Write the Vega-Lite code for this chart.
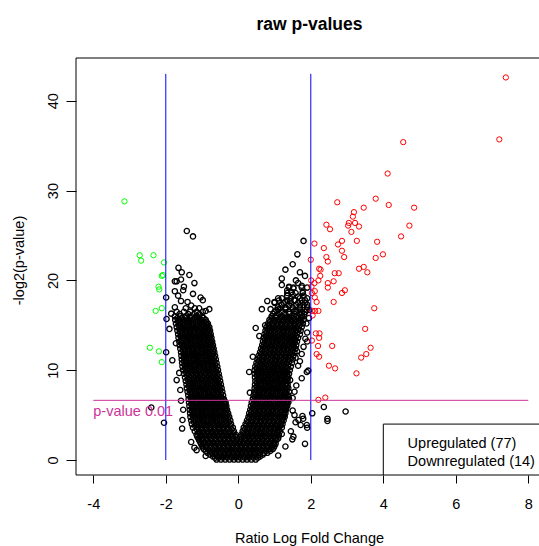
{
"$schema": "https://vega.github.io/schema/vega-lite/v6.json",
"width": 463, "height": 417,
"autosize": {"type": "none"},
"padding": {"left": 76, "top": 58, "right": 0, "bottom": 71},
"background": "white",
"title": {"text": "raw p-values", "font": "Liberation Sans", "fontSize": 17.5, "fontWeight": "bold", "color": "black", "anchor": "middle", "baseline": "alphabetic", "offset": 10, "dx": 2},
"config": {"view": {"stroke": null}, "axis": {"grid": false, "domain": false, "labelFont": "Liberation Sans", "labelFontSize": 14.5, "labelColor": "black", "tickColor": "black", "tickWidth": 1, "titleFont": "Liberation Sans", "titleFontSize": 14.5, "titleFontWeight": "normal", "titleColor": "black", "labelOverlap": false, "labelFlush": false, "labelBound": false}},
"datasets": {
"ns": [
{"x":-0.6,"y":0.05},{"x":-0.48,"y":0.05},{"x":-0.36,"y":0.05},{"x":-0.24,"y":0.05},{"x":-0.12,"y":0.05},{"x":0,"y":0.05},{"x":0.12,"y":0.05},{"x":0.24,"y":0.05},{"x":0.36,"y":0.05},{"x":0.48,"y":0.05},
{"x":-0.64,"y":0.25},{"x":-0.54,"y":0.25},{"x":-0.42,"y":0.25},{"x":-0.3,"y":0.25},{"x":-0.18,"y":0.25},{"x":-0.06,"y":0.25},{"x":0.06,"y":0.25},{"x":0.18,"y":0.25},{"x":0.3,"y":0.25},{"x":0.42,"y":0.25},{"x":0.54,"y":0.25},
{"x":-0.7,"y":0.4},{"x":-0.58,"y":0.4},{"x":-0.46,"y":0.4},{"x":-0.34,"y":0.4},{"x":-0.22,"y":0.4},{"x":-0.1,"y":0.4},{"x":0.02,"y":0.4},{"x":0.14,"y":0.4},{"x":0.26,"y":0.4},{"x":0.38,"y":0.4},{"x":0.5,"y":0.4},{"x":0.6,"y":0.4},
{"x":-0.78,"y":0.6},{"x":-0.64,"y":0.6},{"x":-0.52,"y":0.6},{"x":-0.4,"y":0.6},{"x":-0.28,"y":0.6},{"x":-0.16,"y":0.6},{"x":-0.04,"y":0.6},{"x":0.08,"y":0.6},{"x":0.2,"y":0.6},{"x":0.32,"y":0.6},{"x":0.44,"y":0.6},{"x":0.56,"y":0.6},{"x":0.68,"y":0.6},
{"x":-0.85,"y":0.8},{"x":-0.73,"y":0.8},{"x":-0.61,"y":0.8},{"x":-0.49,"y":0.8},{"x":-0.37,"y":0.8},{"x":-0.25,"y":0.8},{"x":-0.13,"y":0.8},{"x":-0.01,"y":0.8},{"x":0.11,"y":0.8},{"x":0.23,"y":0.8},{"x":0.35,"y":0.8},{"x":0.47,"y":0.8},{"x":0.59,"y":0.8},{"x":0.71,"y":0.8},{"x":0.8,"y":0.8},
{"x":-0.9,"y":1.0},{"x":-0.79,"y":1.0},{"x":-0.67,"y":1.0},{"x":-0.55,"y":1.0},{"x":-0.43,"y":1.0},{"x":-0.31,"y":1.0},{"x":-0.19,"y":1.0},{"x":-0.07,"y":1.0},{"x":0.05,"y":1.0},{"x":0.17,"y":1.0},{"x":0.29,"y":1.0},{"x":0.41,"y":1.0},{"x":0.53,"y":1.0},{"x":0.65,"y":1.0},{"x":0.77,"y":1.0},{"x":0.88,"y":1.0},
{"x":-0.95,"y":1.2},{"x":-0.83,"y":1.2},{"x":-0.71,"y":1.2},{"x":-0.59,"y":1.2},{"x":-0.47,"y":1.2},{"x":-0.35,"y":1.2},{"x":-0.23,"y":1.2},{"x":-0.11,"y":1.2},{"x":0.01,"y":1.2},{"x":0.13,"y":1.2},{"x":0.25,"y":1.2},{"x":0.37,"y":1.2},{"x":0.49,"y":1.2},{"x":0.61,"y":1.2},{"x":0.73,"y":1.2},{"x":0.85,"y":1.2},{"x":0.95,"y":1.2},
{"x":-0.98,"y":1.4},{"x":-0.89,"y":1.4},{"x":-0.77,"y":1.4},{"x":-0.65,"y":1.4},{"x":-0.53,"y":1.4},{"x":-0.41,"y":1.4},{"x":-0.29,"y":1.4},{"x":-0.17,"y":1.4},{"x":-0.05,"y":1.4},{"x":0.07,"y":1.4},{"x":0.19,"y":1.4},{"x":0.31,"y":1.4},{"x":0.43,"y":1.4},{"x":0.55,"y":1.4},{"x":0.67,"y":1.4},{"x":0.79,"y":1.4},{"x":0.91,"y":1.4},{"x":0.98,"y":1.4},
{"x":-1.0,"y":1.6},{"x":-0.88,"y":1.6},{"x":-0.76,"y":1.6},{"x":-0.64,"y":1.6},{"x":-0.52,"y":1.6},{"x":-0.4,"y":1.6},{"x":-0.28,"y":1.6},{"x":-0.16,"y":1.6},{"x":-0.04,"y":1.6},{"x":0.08,"y":1.6},{"x":0.2,"y":1.6},{"x":0.32,"y":1.6},{"x":0.44,"y":1.6},{"x":0.56,"y":1.6},{"x":0.68,"y":1.6},{"x":0.8,"y":1.6},{"x":0.92,"y":1.6},{"x":1.0,"y":1.6},
{"x":-1.03,"y":1.8},{"x":-0.94,"y":1.8},{"x":-0.82,"y":1.8},{"x":-0.7,"y":1.8},{"x":-0.58,"y":1.8},{"x":-0.46,"y":1.8},{"x":-0.34,"y":1.8},{"x":-0.22,"y":1.8},{"x":-0.1,"y":1.8},{"x":0.02,"y":1.8},{"x":0.14,"y":1.8},{"x":0.26,"y":1.8},{"x":0.38,"y":1.8},{"x":0.5,"y":1.8},{"x":0.62,"y":1.8},{"x":0.74,"y":1.8},{"x":0.86,"y":1.8},{"x":0.98,"y":1.8},{"x":1.03,"y":1.8},
{"x":-1.05,"y":2.0},{"x":-0.93,"y":2.0},{"x":-0.81,"y":2.0},{"x":-0.69,"y":2.0},{"x":-0.57,"y":2.0},{"x":-0.45,"y":2.0},{"x":-0.33,"y":2.0},{"x":-0.21,"y":2.0},{"x":-0.09,"y":2.0},{"x":0.03,"y":2.0},{"x":0.15,"y":2.0},{"x":0.27,"y":2.0},{"x":0.39,"y":2.0},{"x":0.51,"y":2.0},{"x":0.63,"y":2.0},{"x":0.75,"y":2.0},{"x":0.87,"y":2.0},{"x":0.99,"y":2.0},
{"x":-1.08,"y":2.2},{"x":-0.99,"y":2.2},{"x":-0.87,"y":2.2},{"x":-0.75,"y":2.2},{"x":-0.63,"y":2.2},{"x":-0.51,"y":2.2},{"x":-0.39,"y":2.2},{"x":-0.27,"y":2.2},{"x":-0.15,"y":2.2},{"x":-0.03,"y":2.2},{"x":0.09,"y":2.2},{"x":0.21,"y":2.2},{"x":0.33,"y":2.2},{"x":0.45,"y":2.2},{"x":0.57,"y":2.2},{"x":0.69,"y":2.2},{"x":0.81,"y":2.2},{"x":0.93,"y":2.2},{"x":1.05,"y":2.2},
{"x":-1.1,"y":2.4},{"x":-0.98,"y":2.4},{"x":-0.86,"y":2.4},{"x":-0.74,"y":2.4},{"x":-0.62,"y":2.4},{"x":-0.5,"y":2.4},{"x":-0.38,"y":2.4},{"x":-0.26,"y":2.4},{"x":-0.14,"y":2.4},{"x":-0.04,"y":2.4},{"x":0.06,"y":2.4},{"x":0.18,"y":2.4},{"x":0.3,"y":2.4},{"x":0.42,"y":2.4},{"x":0.54,"y":2.4},{"x":0.66,"y":2.4},{"x":0.78,"y":2.4},{"x":0.9,"y":2.4},{"x":1.02,"y":2.4},{"x":1.1,"y":2.4},
{"x":-1.13,"y":2.6},{"x":-1.04,"y":2.6},{"x":-0.92,"y":2.6},{"x":-0.8,"y":2.6},{"x":-0.68,"y":2.6},{"x":-0.56,"y":2.6},{"x":-0.44,"y":2.6},{"x":-0.32,"y":2.6},{"x":-0.2,"y":2.6},{"x":-0.08,"y":2.6},{"x":0.07,"y":2.6},{"x":0.14,"y":2.6},{"x":0.26,"y":2.6},{"x":0.38,"y":2.6},{"x":0.5,"y":2.6},{"x":0.62,"y":2.6},{"x":0.74,"y":2.6},{"x":0.86,"y":2.6},{"x":0.98,"y":2.6},{"x":1.1,"y":2.6},
{"x":-1.15,"y":2.8},{"x":-1.03,"y":2.8},{"x":-0.91,"y":2.8},{"x":-0.79,"y":2.8},{"x":-0.67,"y":2.8},{"x":-0.55,"y":2.8},{"x":-0.43,"y":2.8},{"x":-0.31,"y":2.8},{"x":-0.19,"y":2.8},{"x":-0.07,"y":2.8},{"x":0.08,"y":2.8},{"x":0.2,"y":2.8},{"x":0.32,"y":2.8},{"x":0.44,"y":2.8},{"x":0.56,"y":2.8},{"x":0.68,"y":2.8},{"x":0.8,"y":2.8},{"x":0.92,"y":2.8},{"x":1.04,"y":2.8},{"x":1.12,"y":2.8},
{"x":-1.09,"y":3.0},{"x":-0.97,"y":3.0},{"x":-0.85,"y":3.0},{"x":-0.73,"y":3.0},{"x":-0.61,"y":3.0},{"x":-0.49,"y":3.0},{"x":-0.37,"y":3.0},{"x":-0.25,"y":3.0},{"x":-0.13,"y":3.0},{"x":0.14,"y":3.0},{"x":0.26,"y":3.0},{"x":0.38,"y":3.0},{"x":0.5,"y":3.0},{"x":0.62,"y":3.0},{"x":0.74,"y":3.0},{"x":0.86,"y":3.0},{"x":0.98,"y":3.0},{"x":1.08,"y":3.0},
{"x":-1.2,"y":3.2},{"x":-1.08,"y":3.2},{"x":-0.96,"y":3.2},{"x":-0.84,"y":3.2},{"x":-0.72,"y":3.2},{"x":-0.6,"y":3.2},{"x":-0.48,"y":3.2},{"x":-0.36,"y":3.2},{"x":-0.24,"y":3.2},{"x":-0.12,"y":3.2},{"x":0.12,"y":3.2},{"x":0.24,"y":3.2},{"x":0.36,"y":3.2},{"x":0.48,"y":3.2},{"x":0.6,"y":3.2},{"x":0.72,"y":3.2},{"x":0.84,"y":3.2},{"x":0.96,"y":3.2},{"x":1.08,"y":3.2},{"x":1.15,"y":3.2},
{"x":-1.14,"y":3.4},{"x":-1.02,"y":3.4},{"x":-0.9,"y":3.4},{"x":-0.78,"y":3.4},{"x":-0.66,"y":3.4},{"x":-0.54,"y":3.4},{"x":-0.42,"y":3.4},{"x":-0.3,"y":3.4},{"x":-0.18,"y":3.4},{"x":0.18,"y":3.4},{"x":0.3,"y":3.4},{"x":0.42,"y":3.4},{"x":0.54,"y":3.4},{"x":0.66,"y":3.4},{"x":0.78,"y":3.4},{"x":0.9,"y":3.4},{"x":1.02,"y":3.4},{"x":1.12,"y":3.4},
{"x":-1.25,"y":3.6},{"x":-1.13,"y":3.6},{"x":-1.01,"y":3.6},{"x":-0.89,"y":3.6},{"x":-0.77,"y":3.6},{"x":-0.65,"y":3.6},{"x":-0.53,"y":3.6},{"x":-0.41,"y":3.6},{"x":-0.29,"y":3.6},{"x":-0.15,"y":3.6},{"x":0.15,"y":3.6},{"x":0.27,"y":3.6},{"x":0.39,"y":3.6},{"x":0.51,"y":3.6},{"x":0.63,"y":3.6},{"x":0.75,"y":3.6},{"x":0.87,"y":3.6},{"x":0.99,"y":3.6},{"x":1.11,"y":3.6},{"x":1.2,"y":3.6},
{"x":-1.19,"y":3.8},{"x":-1.07,"y":3.8},{"x":-0.95,"y":3.8},{"x":-0.83,"y":3.8},{"x":-0.71,"y":3.8},{"x":-0.59,"y":3.8},{"x":-0.47,"y":3.8},{"x":-0.35,"y":3.8},{"x":-0.22,"y":3.8},{"x":0.21,"y":3.8},{"x":0.33,"y":3.8},{"x":0.45,"y":3.8},{"x":0.57,"y":3.8},{"x":0.69,"y":3.8},{"x":0.81,"y":3.8},{"x":0.93,"y":3.8},{"x":1.05,"y":3.8},{"x":1.16,"y":3.8},
{"x":-1.28,"y":4.0},{"x":-1.16,"y":4.0},{"x":-1.04,"y":4.0},{"x":-0.92,"y":4.0},{"x":-0.8,"y":4.0},{"x":-0.68,"y":4.0},{"x":-0.56,"y":4.0},{"x":-0.44,"y":4.0},{"x":-0.32,"y":4.0},{"x":-0.2,"y":4.0},{"x":0.2,"y":4.0},{"x":0.32,"y":4.0},{"x":0.44,"y":4.0},{"x":0.56,"y":4.0},{"x":0.68,"y":4.0},{"x":0.8,"y":4.0},{"x":0.92,"y":4.0},{"x":1.04,"y":4.0},{"x":1.16,"y":4.0},{"x":1.22,"y":4.0},
{"x":-1.22,"y":4.2},{"x":-1.1,"y":4.2},{"x":-0.98,"y":4.2},{"x":-0.86,"y":4.2},{"x":-0.74,"y":4.2},{"x":-0.62,"y":4.2},{"x":-0.5,"y":4.2},{"x":-0.38,"y":4.2},{"x":-0.26,"y":4.2},{"x":0.26,"y":4.2},{"x":0.38,"y":4.2},{"x":0.5,"y":4.2},{"x":0.62,"y":4.2},{"x":0.74,"y":4.2},{"x":0.86,"y":4.2},{"x":0.98,"y":4.2},{"x":1.1,"y":4.2},{"x":1.19,"y":4.2},
{"x":-1.3,"y":4.4},{"x":-1.18,"y":4.4},{"x":-1.06,"y":4.4},{"x":-0.94,"y":4.4},{"x":-0.82,"y":4.4},{"x":-0.7,"y":4.4},{"x":-0.58,"y":4.4},{"x":-0.46,"y":4.4},{"x":-0.34,"y":4.4},{"x":-0.22,"y":4.4},{"x":0.24,"y":4.4},{"x":0.36,"y":4.4},{"x":0.48,"y":4.4},{"x":0.6,"y":4.4},{"x":0.72,"y":4.4},{"x":0.84,"y":4.4},{"x":0.96,"y":4.4},{"x":1.08,"y":4.4},{"x":1.2,"y":4.4},{"x":1.25,"y":4.4},
{"x":-1.24,"y":4.6},{"x":-1.12,"y":4.6},{"x":-1.0,"y":4.6},{"x":-0.88,"y":4.6},{"x":-0.76,"y":4.6},{"x":-0.64,"y":4.6},{"x":-0.52,"y":4.6},{"x":-0.4,"y":4.6},{"x":-0.28,"y":4.6},{"x":0.3,"y":4.6},{"x":0.42,"y":4.6},{"x":0.54,"y":4.6},{"x":0.66,"y":4.6},{"x":0.78,"y":4.6},{"x":0.9,"y":4.6},{"x":1.02,"y":4.6},{"x":1.14,"y":4.6},{"x":1.22,"y":4.6},
{"x":-1.32,"y":4.8},{"x":-1.2,"y":4.8},{"x":-1.08,"y":4.8},{"x":-0.96,"y":4.8},{"x":-0.84,"y":4.8},{"x":-0.72,"y":4.8},{"x":-0.6,"y":4.8},{"x":-0.48,"y":4.8},{"x":-0.36,"y":4.8},{"x":-0.25,"y":4.8},{"x":0.28,"y":4.8},{"x":0.4,"y":4.8},{"x":0.52,"y":4.8},{"x":0.64,"y":4.8},{"x":0.76,"y":4.8},{"x":0.88,"y":4.8},{"x":1.0,"y":4.8},{"x":1.12,"y":4.8},{"x":1.24,"y":4.8},{"x":1.28,"y":4.8},
{"x":-1.26,"y":5.0},{"x":-1.14,"y":5.0},{"x":-1.02,"y":5.0},{"x":-0.9,"y":5.0},{"x":-0.78,"y":5.0},{"x":-0.66,"y":5.0},{"x":-0.54,"y":5.0},{"x":-0.42,"y":5.0},{"x":-0.3,"y":5.0},{"x":0.34,"y":5.0},{"x":0.46,"y":5.0},{"x":0.58,"y":5.0},{"x":0.7,"y":5.0},{"x":0.82,"y":5.0},{"x":0.94,"y":5.0},{"x":1.06,"y":5.0},{"x":1.18,"y":5.0},{"x":1.26,"y":5.0},
{"x":-1.33,"y":5.2},{"x":-1.21,"y":5.2},{"x":-1.09,"y":5.2},{"x":-0.97,"y":5.2},{"x":-0.85,"y":5.2},{"x":-0.73,"y":5.2},{"x":-0.61,"y":5.2},{"x":-0.49,"y":5.2},{"x":-0.37,"y":5.2},{"x":-0.28,"y":5.2},{"x":0.3,"y":5.2},{"x":0.42,"y":5.2},{"x":0.54,"y":5.2},{"x":0.66,"y":5.2},{"x":0.78,"y":5.2},{"x":0.9,"y":5.2},{"x":1.02,"y":5.2},{"x":1.14,"y":5.2},{"x":1.26,"y":5.2},{"x":1.3,"y":5.2},
{"x":-1.27,"y":5.4},{"x":-1.15,"y":5.4},{"x":-1.03,"y":5.4},{"x":-0.91,"y":5.4},{"x":-0.79,"y":5.4},{"x":-0.67,"y":5.4},{"x":-0.55,"y":5.4},{"x":-0.43,"y":5.4},{"x":-0.33,"y":5.4},{"x":0.36,"y":5.4},{"x":0.48,"y":5.4},{"x":0.6,"y":5.4},{"x":0.72,"y":5.4},{"x":0.84,"y":5.4},{"x":0.96,"y":5.4},{"x":1.08,"y":5.4},{"x":1.2,"y":5.4},{"x":1.28,"y":5.4},
{"x":-1.34,"y":5.6},{"x":-1.22,"y":5.6},{"x":-1.1,"y":5.6},{"x":-0.98,"y":5.6},{"x":-0.86,"y":5.6},{"x":-0.74,"y":5.6},{"x":-0.62,"y":5.6},{"x":-0.5,"y":5.6},{"x":-0.38,"y":5.6},{"x":-0.31,"y":5.6},{"x":0.33,"y":5.6},{"x":0.45,"y":5.6},{"x":0.57,"y":5.6},{"x":0.69,"y":5.6},{"x":0.81,"y":5.6},{"x":0.93,"y":5.6},{"x":1.05,"y":5.6},{"x":1.17,"y":5.6},{"x":1.29,"y":5.6},{"x":1.32,"y":5.6},
{"x":-1.28,"y":5.8},{"x":-1.16,"y":5.8},{"x":-1.04,"y":5.8},{"x":-0.92,"y":5.8},{"x":-0.8,"y":5.8},{"x":-0.68,"y":5.8},{"x":-0.56,"y":5.8},{"x":-0.44,"y":5.8},{"x":-0.35,"y":5.8},{"x":0.39,"y":5.8},{"x":0.51,"y":5.8},{"x":0.63,"y":5.8},{"x":0.75,"y":5.8},{"x":0.87,"y":5.8},{"x":0.99,"y":5.8},{"x":1.11,"y":5.8},{"x":1.23,"y":5.8},{"x":1.31,"y":5.8},
{"x":-1.35,"y":6.0},{"x":-1.23,"y":6.0},{"x":-1.11,"y":6.0},{"x":-0.99,"y":6.0},{"x":-0.87,"y":6.0},{"x":-0.75,"y":6.0},{"x":-0.63,"y":6.0},{"x":-0.51,"y":6.0},{"x":-0.39,"y":6.0},{"x":-0.33,"y":6.0},{"x":0.35,"y":6.0},{"x":0.47,"y":6.0},{"x":0.59,"y":6.0},{"x":0.71,"y":6.0},{"x":0.83,"y":6.0},{"x":0.95,"y":6.0},{"x":1.07,"y":6.0},{"x":1.19,"y":6.0},{"x":1.31,"y":6.0},{"x":1.35,"y":6.0},
{"x":-1.29,"y":6.2},{"x":-1.17,"y":6.2},{"x":-1.05,"y":6.2},{"x":-0.93,"y":6.2},{"x":-0.81,"y":6.2},{"x":-0.69,"y":6.2},{"x":-0.57,"y":6.2},{"x":-0.45,"y":6.2},{"x":-0.36,"y":6.2},{"x":0.41,"y":6.2},{"x":0.53,"y":6.2},{"x":0.65,"y":6.2},{"x":0.77,"y":6.2},{"x":0.89,"y":6.2},{"x":1.01,"y":6.2},{"x":1.13,"y":6.2},{"x":1.25,"y":6.2},{"x":1.33,"y":6.2},
{"x":-1.36,"y":6.4},{"x":-1.24,"y":6.4},{"x":-1.12,"y":6.4},{"x":-1.0,"y":6.4},{"x":-0.88,"y":6.4},{"x":-0.76,"y":6.4},{"x":-0.64,"y":6.4},{"x":-0.52,"y":6.4},{"x":-0.4,"y":6.4},{"x":-0.35,"y":6.4},{"x":0.37,"y":6.4},{"x":0.49,"y":6.4},{"x":0.61,"y":6.4},{"x":0.73,"y":6.4},{"x":0.85,"y":6.4},{"x":0.97,"y":6.4},{"x":1.09,"y":6.4},{"x":1.21,"y":6.4},{"x":1.33,"y":6.4},{"x":1.38,"y":6.4},
{"x":-1.3,"y":6.6},{"x":-1.18,"y":6.6},{"x":-1.06,"y":6.6},{"x":-0.94,"y":6.6},{"x":-0.82,"y":6.6},{"x":-0.7,"y":6.6},{"x":-0.58,"y":6.6},{"x":-0.46,"y":6.6},{"x":-0.38,"y":6.6},{"x":0.43,"y":6.6},{"x":0.55,"y":6.6},{"x":0.67,"y":6.6},{"x":0.79,"y":6.6},{"x":0.91,"y":6.6},{"x":1.03,"y":6.6},{"x":1.15,"y":6.6},{"x":1.27,"y":6.6},{"x":1.37,"y":6.6},
{"x":-1.37,"y":6.8},{"x":-1.25,"y":6.8},{"x":-1.13,"y":6.8},{"x":-1.01,"y":6.8},{"x":-0.89,"y":6.8},{"x":-0.77,"y":6.8},{"x":-0.65,"y":6.8},{"x":-0.53,"y":6.8},{"x":-0.4,"y":6.8},{"x":0.4,"y":6.8},{"x":0.52,"y":6.8},{"x":0.64,"y":6.8},{"x":0.76,"y":6.8},{"x":0.88,"y":6.8},{"x":1.0,"y":6.8},{"x":1.12,"y":6.8},{"x":1.24,"y":6.8},{"x":1.36,"y":6.8},{"x":1.4,"y":6.8},
{"x":-1.31,"y":7.0},{"x":-1.19,"y":7.0},{"x":-1.07,"y":7.0},{"x":-0.95,"y":7.0},{"x":-0.83,"y":7.0},{"x":-0.71,"y":7.0},{"x":-0.59,"y":7.0},{"x":-0.47,"y":7.0},{"x":0.46,"y":7.0},{"x":0.58,"y":7.0},{"x":0.7,"y":7.0},{"x":0.82,"y":7.0},{"x":0.94,"y":7.0},{"x":1.06,"y":7.0},{"x":1.18,"y":7.0},{"x":1.3,"y":7.0},{"x":1.38,"y":7.0},
{"x":-1.38,"y":7.2},{"x":-1.26,"y":7.2},{"x":-1.14,"y":7.2},{"x":-1.02,"y":7.2},{"x":-0.9,"y":7.2},{"x":-0.78,"y":7.2},{"x":-0.66,"y":7.2},{"x":-0.54,"y":7.2},{"x":-0.42,"y":7.2},{"x":0.42,"y":7.2},{"x":0.54,"y":7.2},{"x":0.66,"y":7.2},{"x":0.78,"y":7.2},{"x":0.9,"y":7.2},{"x":1.02,"y":7.2},{"x":1.14,"y":7.2},{"x":1.26,"y":7.2},{"x":1.38,"y":7.2},
{"x":-1.32,"y":7.4},{"x":-1.2,"y":7.4},{"x":-1.08,"y":7.4},{"x":-0.96,"y":7.4},{"x":-0.84,"y":7.4},{"x":-0.72,"y":7.4},{"x":-0.6,"y":7.4},{"x":-0.48,"y":7.4},{"x":0.48,"y":7.4},{"x":0.6,"y":7.4},{"x":0.72,"y":7.4},{"x":0.84,"y":7.4},{"x":0.96,"y":7.4},{"x":1.08,"y":7.4},{"x":1.2,"y":7.4},{"x":1.32,"y":7.4},
{"x":-1.4,"y":7.6},{"x":-1.28,"y":7.6},{"x":-1.16,"y":7.6},{"x":-1.04,"y":7.6},{"x":-0.92,"y":7.6},{"x":-0.8,"y":7.6},{"x":-0.68,"y":7.6},{"x":-0.56,"y":7.6},{"x":-0.44,"y":7.6},{"x":0.44,"y":7.6},{"x":0.56,"y":7.6},{"x":0.68,"y":7.6},{"x":0.8,"y":7.6},{"x":0.92,"y":7.6},{"x":1.04,"y":7.6},{"x":1.16,"y":7.6},{"x":1.28,"y":7.6},{"x":1.4,"y":7.6},
{"x":-1.34,"y":7.8},{"x":-1.22,"y":7.8},{"x":-1.1,"y":7.8},{"x":-0.98,"y":7.8},{"x":-0.86,"y":7.8},{"x":-0.74,"y":7.8},{"x":-0.62,"y":7.8},{"x":-0.5,"y":7.8},{"x":0.5,"y":7.8},{"x":0.62,"y":7.8},{"x":0.74,"y":7.8},{"x":0.86,"y":7.8},{"x":0.98,"y":7.8},{"x":1.1,"y":7.8},{"x":1.22,"y":7.8},{"x":1.34,"y":7.8},
{"x":-1.42,"y":8.0},{"x":-1.3,"y":8.0},{"x":-1.18,"y":8.0},{"x":-1.06,"y":8.0},{"x":-0.94,"y":8.0},{"x":-0.82,"y":8.0},{"x":-0.7,"y":8.0},{"x":-0.58,"y":8.0},{"x":-0.46,"y":8.0},{"x":0.45,"y":8.0},{"x":0.57,"y":8.0},{"x":0.69,"y":8.0},{"x":0.81,"y":8.0},{"x":0.93,"y":8.0},{"x":1.05,"y":8.0},{"x":1.17,"y":8.0},{"x":1.29,"y":8.0},{"x":1.38,"y":8.0},
{"x":-1.36,"y":8.2},{"x":-1.24,"y":8.2},{"x":-1.12,"y":8.2},{"x":-1.0,"y":8.2},{"x":-0.88,"y":8.2},{"x":-0.76,"y":8.2},{"x":-0.64,"y":8.2},{"x":-0.52,"y":8.2},{"x":0.51,"y":8.2},{"x":0.63,"y":8.2},{"x":0.75,"y":8.2},{"x":0.87,"y":8.2},{"x":0.99,"y":8.2},{"x":1.11,"y":8.2},{"x":1.23,"y":8.2},{"x":1.34,"y":8.2},
{"x":-1.43,"y":8.4},{"x":-1.31,"y":8.4},{"x":-1.19,"y":8.4},{"x":-1.07,"y":8.4},{"x":-0.95,"y":8.4},{"x":-0.83,"y":8.4},{"x":-0.71,"y":8.4},{"x":-0.59,"y":8.4},{"x":-0.48,"y":8.4},{"x":0.46,"y":8.4},{"x":0.58,"y":8.4},{"x":0.7,"y":8.4},{"x":0.82,"y":8.4},{"x":0.94,"y":8.4},{"x":1.06,"y":8.4},{"x":1.18,"y":8.4},{"x":1.3,"y":8.4},{"x":1.36,"y":8.4},
{"x":-1.37,"y":8.6},{"x":-1.25,"y":8.6},{"x":-1.13,"y":8.6},{"x":-1.01,"y":8.6},{"x":-0.89,"y":8.6},{"x":-0.77,"y":8.6},{"x":-0.65,"y":8.6},{"x":-0.54,"y":8.6},{"x":0.52,"y":8.6},{"x":0.64,"y":8.6},{"x":0.76,"y":8.6},{"x":0.88,"y":8.6},{"x":1.0,"y":8.6},{"x":1.12,"y":8.6},{"x":1.24,"y":8.6},{"x":1.33,"y":8.6},
{"x":-1.45,"y":8.8},{"x":-1.33,"y":8.8},{"x":-1.21,"y":8.8},{"x":-1.09,"y":8.8},{"x":-0.97,"y":8.8},{"x":-0.85,"y":8.8},{"x":-0.73,"y":8.8},{"x":-0.61,"y":8.8},{"x":-0.5,"y":8.8},{"x":0.47,"y":8.8},{"x":0.59,"y":8.8},{"x":0.71,"y":8.8},{"x":0.83,"y":8.8},{"x":0.95,"y":8.8},{"x":1.07,"y":8.8},{"x":1.19,"y":8.8},{"x":1.31,"y":8.8},{"x":1.36,"y":8.8},
{"x":-1.39,"y":9.0},{"x":-1.27,"y":9.0},{"x":-1.15,"y":9.0},{"x":-1.03,"y":9.0},{"x":-0.91,"y":9.0},{"x":-0.79,"y":9.0},{"x":-0.67,"y":9.0},{"x":-0.56,"y":9.0},{"x":0.53,"y":9.0},{"x":0.65,"y":9.0},{"x":0.77,"y":9.0},{"x":0.89,"y":9.0},{"x":1.01,"y":9.0},{"x":1.13,"y":9.0},{"x":1.25,"y":9.0},{"x":1.34,"y":9.0},
{"x":-1.47,"y":9.2},{"x":-1.35,"y":9.2},{"x":-1.23,"y":9.2},{"x":-1.11,"y":9.2},{"x":-0.99,"y":9.2},{"x":-0.87,"y":9.2},{"x":-0.75,"y":9.2},{"x":-0.63,"y":9.2},{"x":-0.52,"y":9.2},{"x":0.46,"y":9.2},{"x":0.58,"y":9.2},{"x":0.7,"y":9.2},{"x":0.82,"y":9.2},{"x":0.94,"y":9.2},{"x":1.06,"y":9.2},{"x":1.18,"y":9.2},{"x":1.3,"y":9.2},{"x":1.38,"y":9.2},
{"x":-1.41,"y":9.4},{"x":-1.29,"y":9.4},{"x":-1.17,"y":9.4},{"x":-1.05,"y":9.4},{"x":-0.93,"y":9.4},{"x":-0.81,"y":9.4},{"x":-0.69,"y":9.4},{"x":-0.58,"y":9.4},{"x":0.52,"y":9.4},{"x":0.64,"y":9.4},{"x":0.76,"y":9.4},{"x":0.88,"y":9.4},{"x":1.0,"y":9.4},{"x":1.12,"y":9.4},{"x":1.24,"y":9.4},{"x":1.35,"y":9.4},
{"x":-1.5,"y":9.6},{"x":-1.38,"y":9.6},{"x":-1.26,"y":9.6},{"x":-1.14,"y":9.6},{"x":-1.02,"y":9.6},{"x":-0.9,"y":9.6},{"x":-0.78,"y":9.6},{"x":-0.66,"y":9.6},{"x":-0.54,"y":9.6},{"x":0.45,"y":9.6},{"x":0.57,"y":9.6},{"x":0.69,"y":9.6},{"x":0.81,"y":9.6},{"x":0.93,"y":9.6},{"x":1.05,"y":9.6},{"x":1.17,"y":9.6},{"x":1.29,"y":9.6},{"x":1.4,"y":9.6},
{"x":-1.44,"y":9.8},{"x":-1.32,"y":9.8},{"x":-1.2,"y":9.8},{"x":-1.08,"y":9.8},{"x":-0.96,"y":9.8},{"x":-0.84,"y":9.8},{"x":-0.72,"y":9.8},{"x":-0.6,"y":9.8},{"x":0.51,"y":9.8},{"x":0.63,"y":9.8},{"x":0.75,"y":9.8},{"x":0.87,"y":9.8},{"x":0.99,"y":9.8},{"x":1.11,"y":9.8},{"x":1.23,"y":9.8},{"x":1.35,"y":9.8},
{"x":-1.52,"y":10.0},{"x":-1.4,"y":10.0},{"x":-1.28,"y":10.0},{"x":-1.16,"y":10.0},{"x":-1.04,"y":10.0},{"x":-0.92,"y":10.0},{"x":-0.8,"y":10.0},{"x":-0.68,"y":10.0},{"x":-0.56,"y":10.0},{"x":0.45,"y":10.0},{"x":0.57,"y":10.0},{"x":0.69,"y":10.0},{"x":0.81,"y":10.0},{"x":0.93,"y":10.0},{"x":1.05,"y":10.0},{"x":1.17,"y":10.0},{"x":1.29,"y":10.0},{"x":1.42,"y":10.0},
{"x":-1.46,"y":10.2},{"x":-1.34,"y":10.2},{"x":-1.22,"y":10.2},{"x":-1.1,"y":10.2},{"x":-0.98,"y":10.2},{"x":-0.86,"y":10.2},{"x":-0.74,"y":10.2},{"x":-0.62,"y":10.2},{"x":0.51,"y":10.2},{"x":0.63,"y":10.2},{"x":0.75,"y":10.2},{"x":0.87,"y":10.2},{"x":0.99,"y":10.2},{"x":1.11,"y":10.2},{"x":1.23,"y":10.2},{"x":1.36,"y":10.2},
{"x":-1.54,"y":10.4},{"x":-1.42,"y":10.4},{"x":-1.3,"y":10.4},{"x":-1.18,"y":10.4},{"x":-1.06,"y":10.4},{"x":-0.94,"y":10.4},{"x":-0.82,"y":10.4},{"x":-0.7,"y":10.4},{"x":-0.58,"y":10.4},{"x":0.47,"y":10.4},{"x":0.59,"y":10.4},{"x":0.71,"y":10.4},{"x":0.83,"y":10.4},{"x":0.95,"y":10.4},{"x":1.07,"y":10.4},{"x":1.19,"y":10.4},{"x":1.31,"y":10.4},{"x":1.45,"y":10.4},
{"x":-1.48,"y":10.6},{"x":-1.36,"y":10.6},{"x":-1.24,"y":10.6},{"x":-1.12,"y":10.6},{"x":-1.0,"y":10.6},{"x":-0.88,"y":10.6},{"x":-0.76,"y":10.6},{"x":-0.64,"y":10.6},{"x":0.53,"y":10.6},{"x":0.65,"y":10.6},{"x":0.77,"y":10.6},{"x":0.89,"y":10.6},{"x":1.01,"y":10.6},{"x":1.13,"y":10.6},{"x":1.25,"y":10.6},{"x":1.38,"y":10.6},
{"x":-1.55,"y":10.8},{"x":-1.43,"y":10.8},{"x":-1.31,"y":10.8},{"x":-1.19,"y":10.8},{"x":-1.07,"y":10.8},{"x":-0.95,"y":10.8},{"x":-0.83,"y":10.8},{"x":-0.71,"y":10.8},{"x":-0.6,"y":10.8},{"x":0.5,"y":10.8},{"x":0.62,"y":10.8},{"x":0.74,"y":10.8},{"x":0.86,"y":10.8},{"x":0.98,"y":10.8},{"x":1.1,"y":10.8},{"x":1.22,"y":10.8},{"x":1.34,"y":10.8},{"x":1.48,"y":10.8},
{"x":-1.49,"y":11.0},{"x":-1.37,"y":11.0},{"x":-1.25,"y":11.0},{"x":-1.13,"y":11.0},{"x":-1.01,"y":11.0},{"x":-0.89,"y":11.0},{"x":-0.77,"y":11.0},{"x":-0.66,"y":11.0},{"x":0.56,"y":11.0},{"x":0.68,"y":11.0},{"x":0.8,"y":11.0},{"x":0.92,"y":11.0},{"x":1.04,"y":11.0},{"x":1.16,"y":11.0},{"x":1.28,"y":11.0},{"x":1.41,"y":11.0},
{"x":-1.56,"y":11.2},{"x":-1.44,"y":11.2},{"x":-1.32,"y":11.2},{"x":-1.2,"y":11.2},{"x":-1.08,"y":11.2},{"x":-0.96,"y":11.2},{"x":-0.84,"y":11.2},{"x":-0.72,"y":11.2},{"x":-0.62,"y":11.2},{"x":0.53,"y":11.2},{"x":0.65,"y":11.2},{"x":0.77,"y":11.2},{"x":0.89,"y":11.2},{"x":1.01,"y":11.2},{"x":1.13,"y":11.2},{"x":1.25,"y":11.2},{"x":1.37,"y":11.2},{"x":1.5,"y":11.2},
{"x":-1.5,"y":11.4},{"x":-1.38,"y":11.4},{"x":-1.26,"y":11.4},{"x":-1.14,"y":11.4},{"x":-1.02,"y":11.4},{"x":-0.9,"y":11.4},{"x":-0.78,"y":11.4},{"x":-0.67,"y":11.4},{"x":0.59,"y":11.4},{"x":0.71,"y":11.4},{"x":0.83,"y":11.4},{"x":0.95,"y":11.4},{"x":1.07,"y":11.4},{"x":1.19,"y":11.4},{"x":1.31,"y":11.4},{"x":1.43,"y":11.4},
{"x":-1.57,"y":11.6},{"x":-1.45,"y":11.6},{"x":-1.33,"y":11.6},{"x":-1.21,"y":11.6},{"x":-1.09,"y":11.6},{"x":-0.97,"y":11.6},{"x":-0.85,"y":11.6},{"x":-0.73,"y":11.6},{"x":-0.64,"y":11.6},{"x":0.56,"y":11.6},{"x":0.68,"y":11.6},{"x":0.8,"y":11.6},{"x":0.92,"y":11.6},{"x":1.04,"y":11.6},{"x":1.16,"y":11.6},{"x":1.28,"y":11.6},{"x":1.4,"y":11.6},{"x":1.52,"y":11.6},
{"x":-1.51,"y":11.8},{"x":-1.39,"y":11.8},{"x":-1.27,"y":11.8},{"x":-1.15,"y":11.8},{"x":-1.03,"y":11.8},{"x":-0.91,"y":11.8},{"x":-0.79,"y":11.8},{"x":-0.69,"y":11.8},{"x":0.62,"y":11.8},{"x":0.74,"y":11.8},{"x":0.86,"y":11.8},{"x":0.98,"y":11.8},{"x":1.1,"y":11.8},{"x":1.22,"y":11.8},{"x":1.34,"y":11.8},{"x":1.46,"y":11.8},
{"x":-1.58,"y":12.0},{"x":-1.46,"y":12.0},{"x":-1.34,"y":12.0},{"x":-1.22,"y":12.0},{"x":-1.1,"y":12.0},{"x":-0.98,"y":12.0},{"x":-0.86,"y":12.0},{"x":-0.74,"y":12.0},{"x":-0.66,"y":12.0},{"x":0.6,"y":12.0},{"x":0.72,"y":12.0},{"x":0.84,"y":12.0},{"x":0.96,"y":12.0},{"x":1.08,"y":12.0},{"x":1.2,"y":12.0},{"x":1.32,"y":12.0},{"x":1.44,"y":12.0},{"x":1.55,"y":12.0},
{"x":-1.52,"y":12.2},{"x":-1.4,"y":12.2},{"x":-1.28,"y":12.2},{"x":-1.16,"y":12.2},{"x":-1.04,"y":12.2},{"x":-0.92,"y":12.2},{"x":-0.8,"y":12.2},{"x":-0.7,"y":12.2},{"x":0.66,"y":12.2},{"x":0.78,"y":12.2},{"x":0.9,"y":12.2},{"x":1.02,"y":12.2},{"x":1.14,"y":12.2},{"x":1.26,"y":12.2},{"x":1.38,"y":12.2},{"x":1.5,"y":12.2},
{"x":-1.6,"y":12.4},{"x":-1.48,"y":12.4},{"x":-1.36,"y":12.4},{"x":-1.24,"y":12.4},{"x":-1.12,"y":12.4},{"x":-1.0,"y":12.4},{"x":-0.88,"y":12.4},{"x":-0.76,"y":12.4},{"x":-0.68,"y":12.4},{"x":0.63,"y":12.4},{"x":0.75,"y":12.4},{"x":0.87,"y":12.4},{"x":0.99,"y":12.4},{"x":1.11,"y":12.4},{"x":1.23,"y":12.4},{"x":1.35,"y":12.4},{"x":1.47,"y":12.4},{"x":1.58,"y":12.4},
{"x":-1.54,"y":12.6},{"x":-1.42,"y":12.6},{"x":-1.3,"y":12.6},{"x":-1.18,"y":12.6},{"x":-1.06,"y":12.6},{"x":-0.94,"y":12.6},{"x":-0.82,"y":12.6},{"x":-0.72,"y":12.6},{"x":0.69,"y":12.6},{"x":0.81,"y":12.6},{"x":0.93,"y":12.6},{"x":1.05,"y":12.6},{"x":1.17,"y":12.6},{"x":1.29,"y":12.6},{"x":1.41,"y":12.6},{"x":1.53,"y":12.6},
{"x":-1.62,"y":12.8},{"x":-1.5,"y":12.8},{"x":-1.38,"y":12.8},{"x":-1.26,"y":12.8},{"x":-1.14,"y":12.8},{"x":-1.02,"y":12.8},{"x":-0.9,"y":12.8},{"x":-0.78,"y":12.8},{"x":-0.7,"y":12.8},{"x":0.66,"y":12.8},{"x":0.78,"y":12.8},{"x":0.9,"y":12.8},{"x":1.02,"y":12.8},{"x":1.14,"y":12.8},{"x":1.26,"y":12.8},{"x":1.38,"y":12.8},{"x":1.5,"y":12.8},{"x":1.6,"y":12.8},
{"x":-1.56,"y":13.0},{"x":-1.44,"y":13.0},{"x":-1.32,"y":13.0},{"x":-1.2,"y":13.0},{"x":-1.08,"y":13.0},{"x":-0.96,"y":13.0},{"x":-0.84,"y":13.0},{"x":-0.74,"y":13.0},{"x":0.72,"y":13.0},{"x":0.84,"y":13.0},{"x":0.96,"y":13.0},{"x":1.08,"y":13.0},{"x":1.2,"y":13.0},{"x":1.32,"y":13.0},{"x":1.44,"y":13.0},{"x":1.55,"y":13.0},
{"x":-1.63,"y":13.2},{"x":-1.51,"y":13.2},{"x":-1.39,"y":13.2},{"x":-1.27,"y":13.2},{"x":-1.15,"y":13.2},{"x":-1.03,"y":13.2},{"x":-0.91,"y":13.2},{"x":-0.8,"y":13.2},{"x":-0.72,"y":13.2},{"x":0.68,"y":13.2},{"x":0.8,"y":13.2},{"x":0.92,"y":13.2},{"x":1.04,"y":13.2},{"x":1.16,"y":13.2},{"x":1.28,"y":13.2},{"x":1.4,"y":13.2},{"x":1.52,"y":13.2},{"x":1.62,"y":13.2},
{"x":-1.57,"y":13.4},{"x":-1.45,"y":13.4},{"x":-1.33,"y":13.4},{"x":-1.21,"y":13.4},{"x":-1.09,"y":13.4},{"x":-0.97,"y":13.4},{"x":-0.85,"y":13.4},{"x":-0.76,"y":13.4},{"x":0.74,"y":13.4},{"x":0.86,"y":13.4},{"x":0.98,"y":13.4},{"x":1.1,"y":13.4},{"x":1.22,"y":13.4},{"x":1.34,"y":13.4},{"x":1.46,"y":13.4},{"x":1.57,"y":13.4},
{"x":-1.65,"y":13.6},{"x":-1.53,"y":13.6},{"x":-1.41,"y":13.6},{"x":-1.29,"y":13.6},{"x":-1.17,"y":13.6},{"x":-1.05,"y":13.6},{"x":-0.93,"y":13.6},{"x":-0.82,"y":13.6},{"x":-0.74,"y":13.6},{"x":0.7,"y":13.6},{"x":0.82,"y":13.6},{"x":0.94,"y":13.6},{"x":1.06,"y":13.6},{"x":1.18,"y":13.6},{"x":1.3,"y":13.6},{"x":1.42,"y":13.6},{"x":1.54,"y":13.6},{"x":1.65,"y":13.6},
{"x":-1.59,"y":13.8},{"x":-1.47,"y":13.8},{"x":-1.35,"y":13.8},{"x":-1.23,"y":13.8},{"x":-1.11,"y":13.8},{"x":-0.99,"y":13.8},{"x":-0.87,"y":13.8},{"x":-0.78,"y":13.8},{"x":0.76,"y":13.8},{"x":0.88,"y":13.8},{"x":1.0,"y":13.8},{"x":1.12,"y":13.8},{"x":1.24,"y":13.8},{"x":1.36,"y":13.8},{"x":1.48,"y":13.8},{"x":1.6,"y":13.8},
{"x":-1.66,"y":14.0},{"x":-1.54,"y":14.0},{"x":-1.42,"y":14.0},{"x":-1.3,"y":14.0},{"x":-1.18,"y":14.0},{"x":-1.06,"y":14.0},{"x":-0.94,"y":14.0},{"x":-0.84,"y":14.0},{"x":-0.76,"y":14.0},{"x":0.72,"y":14.0},{"x":0.84,"y":14.0},{"x":0.96,"y":14.0},{"x":1.08,"y":14.0},{"x":1.2,"y":14.0},{"x":1.32,"y":14.0},{"x":1.44,"y":14.0},{"x":1.56,"y":14.0},{"x":1.7,"y":14.0},
{"x":-1.6,"y":14.2},{"x":-1.48,"y":14.2},{"x":-1.36,"y":14.2},{"x":-1.24,"y":14.2},{"x":-1.12,"y":14.2},{"x":-1.0,"y":14.2},{"x":-0.89,"y":14.2},{"x":-0.8,"y":14.2},{"x":0.78,"y":14.2},{"x":0.9,"y":14.2},{"x":1.02,"y":14.2},{"x":1.14,"y":14.2},{"x":1.26,"y":14.2},{"x":1.38,"y":14.2},{"x":1.5,"y":14.2},{"x":1.63,"y":14.2},
{"x":-1.68,"y":14.4},{"x":-1.56,"y":14.4},{"x":-1.44,"y":14.4},{"x":-1.32,"y":14.4},{"x":-1.2,"y":14.4},{"x":-1.08,"y":14.4},{"x":-0.96,"y":14.4},{"x":-0.86,"y":14.4},{"x":-0.78,"y":14.4},{"x":0.75,"y":14.4},{"x":0.87,"y":14.4},{"x":0.99,"y":14.4},{"x":1.11,"y":14.4},{"x":1.23,"y":14.4},{"x":1.35,"y":14.4},{"x":1.47,"y":14.4},{"x":1.59,"y":14.4},{"x":1.72,"y":14.4},
{"x":-1.62,"y":14.6},{"x":-1.5,"y":14.6},{"x":-1.38,"y":14.6},{"x":-1.26,"y":14.6},{"x":-1.14,"y":14.6},{"x":-1.02,"y":14.6},{"x":-0.91,"y":14.6},{"x":-0.82,"y":14.6},{"x":0.81,"y":14.6},{"x":0.93,"y":14.6},{"x":1.05,"y":14.6},{"x":1.17,"y":14.6},{"x":1.29,"y":14.6},{"x":1.41,"y":14.6},{"x":1.53,"y":14.6},{"x":1.66,"y":14.6},
{"x":-1.7,"y":14.8},{"x":-1.58,"y":14.8},{"x":-1.46,"y":14.8},{"x":-1.34,"y":14.8},{"x":-1.22,"y":14.8},{"x":-1.1,"y":14.8},{"x":-0.98,"y":14.8},{"x":-0.88,"y":14.8},{"x":-0.8,"y":14.8},{"x":0.78,"y":14.8},{"x":0.9,"y":14.8},{"x":1.02,"y":14.8},{"x":1.14,"y":14.8},{"x":1.26,"y":14.8},{"x":1.38,"y":14.8},{"x":1.5,"y":14.8},{"x":1.62,"y":14.8},{"x":1.75,"y":14.8},
{"x":-1.64,"y":15.0},{"x":-1.52,"y":15.0},{"x":-1.4,"y":15.0},{"x":-1.28,"y":15.0},{"x":-1.16,"y":15.0},{"x":-1.04,"y":15.0},{"x":-0.94,"y":15.0},{"x":-0.85,"y":15.0},{"x":0.84,"y":15.0},{"x":0.96,"y":15.0},{"x":1.08,"y":15.0},{"x":1.2,"y":15.0},{"x":1.32,"y":15.0},{"x":1.44,"y":15.0},{"x":1.56,"y":15.0},{"x":1.69,"y":15.0},
{"x":-1.72,"y":15.2},{"x":-1.6,"y":15.2},{"x":-1.48,"y":15.2},{"x":-1.36,"y":15.2},{"x":-1.24,"y":15.2},{"x":-1.12,"y":15.2},{"x":-1.0,"y":15.2},{"x":-0.9,"y":15.2},{"x":-0.84,"y":15.2},{"x":0.82,"y":15.2},{"x":0.94,"y":15.2},{"x":1.06,"y":15.2},{"x":1.18,"y":15.2},{"x":1.3,"y":15.2},{"x":1.42,"y":15.2},{"x":1.54,"y":15.2},{"x":1.66,"y":15.2},{"x":1.78,"y":15.2},
{"x":-1.66,"y":15.4},{"x":-1.54,"y":15.4},{"x":-1.42,"y":15.4},{"x":-1.3,"y":15.4},{"x":-1.18,"y":15.4},{"x":-1.06,"y":15.4},{"x":-0.95,"y":15.4},{"x":-0.88,"y":15.4},{"x":0.88,"y":15.4},{"x":1.0,"y":15.4},{"x":1.12,"y":15.4},{"x":1.24,"y":15.4},{"x":1.36,"y":15.4},{"x":1.48,"y":15.4},{"x":1.6,"y":15.4},{"x":1.72,"y":15.4},
{"x":-1.74,"y":15.6},{"x":-1.62,"y":15.6},{"x":-1.5,"y":15.6},{"x":-1.38,"y":15.6},{"x":-1.26,"y":15.6},{"x":-1.14,"y":15.6},{"x":-1.02,"y":15.6},{"x":-0.9,"y":15.6},{"x":0.86,"y":15.6},{"x":0.98,"y":15.6},{"x":1.1,"y":15.6},{"x":1.22,"y":15.6},{"x":1.34,"y":15.6},{"x":1.46,"y":15.6},{"x":1.58,"y":15.6},{"x":1.7,"y":15.6},{"x":1.8,"y":15.6},
{"x":-1.68,"y":15.8},{"x":-1.56,"y":15.8},{"x":-1.44,"y":15.8},{"x":-1.32,"y":15.8},{"x":-1.2,"y":15.8},{"x":-1.08,"y":15.8},{"x":-0.96,"y":15.8},{"x":0.92,"y":15.8},{"x":1.04,"y":15.8},{"x":1.16,"y":15.8},{"x":1.28,"y":15.8},{"x":1.4,"y":15.8},{"x":1.52,"y":15.8},{"x":1.64,"y":15.8},{"x":1.75,"y":15.8},
{"x":-1.75,"y":16.0},{"x":-1.6,"y":16.0},{"x":-1.45,"y":16.0},{"x":-1.3,"y":16.0},{"x":-1.15,"y":16.0},{"x":-1.0,"y":16.0},{"x":0.92,"y":16.0},{"x":1.06,"y":16.0},{"x":1.2,"y":16.0},{"x":1.34,"y":16.0},{"x":1.48,"y":16.0},{"x":1.62,"y":16.0},{"x":1.76,"y":16.0},
{"x":0.96,"y":16.25},{"x":1.13,"y":16.25},{"x":1.27,"y":16.25},{"x":1.41,"y":16.25},{"x":1.55,"y":16.25},{"x":1.69,"y":16.25},{"x":1.82,"y":16.25},{"x":-1.62,"y":16.25},{"x":-1.38,"y":16.25},{"x":-1.22,"y":16.25},{"x":-1.07,"y":16.25},
{"x":-1.7,"y":16.5},{"x":-1.5,"y":16.5},{"x":-1.33,"y":16.5},{"x":-1.15,"y":16.5},{"x":-0.98,"y":16.5},{"x":1.0,"y":16.5},{"x":1.2,"y":16.5},{"x":1.4,"y":16.5},{"x":1.6,"y":16.5},{"x":1.85,"y":16.5},
{"x":1.1,"y":16.75},{"x":1.3,"y":16.75},{"x":1.5,"y":16.75},{"x":1.7,"y":16.75},
{"x":1.1,"y":17.0},{"x":1.3,"y":17.0},{"x":1.5,"y":17.0},{"x":1.7,"y":17.0},{"x":1.9,"y":17.0},
{"x":1.2,"y":17.25},{"x":1.4,"y":17.25},{"x":1.6,"y":17.25},{"x":1.8,"y":17.25},
{"x":1.0,"y":17.5},{"x":1.25,"y":17.5},{"x":1.45,"y":17.5},{"x":1.65,"y":17.5},{"x":1.85,"y":17.5},
{"x":1.12,"y":17.75},{"x":1.35,"y":17.75},{"x":1.55,"y":17.75},{"x":1.75,"y":17.75},
{"x":1.2,"y":18.0},{"x":1.45,"y":18.0},{"x":1.7,"y":18.0},{"x":1.9,"y":18.0},
{"x":1.35,"y":18.6},{"x":1.58,"y":18.6},{"x":1.78,"y":18.6},
{"x":1.4,"y":19.2},{"x":1.52,"y":19.2},{"x":1.75,"y":19.2},
{"x":-1.42,"y":25.5},{"x":-1.25,"y":24.9},{"x":-1.65,"y":21.4},{"x":-1.56,"y":20.9},{"x":-1.75,"y":19.9},{"x":-1.7,"y":19.9},{"x":-1.58,"y":20.1},{"x":-1.21,"y":19.7},{"x":-1.75,"y":18.8},{"x":-1.52,"y":18.9},{"x":-1.99,"y":18.1},{"x":-1.04,"y":18.1},{"x":-0.98,"y":17.8},{"x":-1.58,"y":17.7},{"x":-1.4,"y":17.6},{"x":-1.75,"y":17.0},{"x":-0.8,"y":16.8},{"x":-1.08,"y":16.9},{"x":-1.98,"y":15.7},{"x":-1.99,"y":12.0},{"x":-1.82,"y":11.1},{"x":-1.63,"y":9.7},{"x":-1.58,"y":6.6},{"x":-1.54,"y":4.45},{"x":-2.05,"y":4.15},{"x":-1.21,"y":1.37},{"x":-2.4,"y":5.85},{"x":-1.9,"y":14.6},{"x":-1.85,"y":16.3},{"x":-1.6,"y":7.8},{"x":-1.55,"y":3.5},{"x":-1.3,"y":2.0},{"x":-1.45,"y":16.9},{"x":-1.3,"y":17.2},{"x":-1.2,"y":16.9},{"x":-1.66,"y":18.3},{"x":-1.25,"y":18.5},{"x":-1.5,"y":19.3},{"x":-1.35,"y":20.6},{"x":-1.72,"y":13.0},{"x":-1.7,"y":8.9},{"x":-1.52,"y":5.6},{"x":-0.9,"y":16.6},{"x":-1.15,"y":1.1},{"x":-0.9,"y":0.45},
{"x":1.8,"y":24.4},{"x":1.63,"y":22.9},{"x":1.3,"y":21.2},{"x":1.84,"y":20.5},{"x":1.59,"y":20.0},{"x":1.4,"y":19.3},{"x":1.75,"y":19.4},{"x":1.47,"y":18.7},{"x":1.78,"y":18.7},{"x":0.8,"y":17.7},{"x":1.0,"y":17.6},{"x":0.65,"y":16.8},{"x":0.89,"y":16.8},{"x":1.15,"y":16.9},{"x":1.32,"y":16.9},{"x":1.43,"y":17.7},{"x":1.56,"y":17.8},{"x":1.84,"y":17.8},{"x":1.89,"y":16.7},{"x":1.96,"y":16.7},{"x":1.04,"y":16.1},{"x":0.48,"y":14.7},{"x":0.74,"y":15.0},{"x":1.49,"y":2.3},{"x":1.84,"y":1.8},{"x":2.04,"y":5.2},{"x":2.36,"y":5.9},{"x":2.46,"y":4.6},{"x":2.46,"y":4.35},{"x":2.96,"y":5.4},{"x":1.77,"y":4.9},{"x":1.9,"y":3.6},{"x":1.58,"y":4.2},{"x":1.72,"y":3.9},{"x":1.2,"y":2.9},{"x":1.52,"y":2.6},{"x":1.89,"y":3.9},{"x":1.66,"y":4.45},{"x":1.79,"y":4.6},{"x":1.43,"y":8.9},{"x":1.75,"y":9.1},{"x":1.89,"y":9.8},{"x":1.93,"y":9.95},{"x":1.9,"y":13.2},{"x":1.5,"y":6.9},{"x":1.55,"y":7.6},{"x":1.6,"y":8.3},{"x":1.65,"y":10.5},{"x":1.7,"y":11.0},{"x":1.75,"y":11.8},{"x":1.8,"y":12.6},{"x":1.85,"y":13.5},{"x":1.9,"y":14.2},{"x":1.88,"y":15.2},{"x":1.95,"y":15.8},{"x":1.75,"y":16.4},{"x":1.55,"y":16.6},{"x":1.7,"y":17.2},{"x":1.9,"y":17.3},{"x":1.8,"y":18.3},{"x":1.65,"y":18.2},{"x":1.5,"y":18.4},{"x":1.35,"y":18.3},{"x":1.2,"y":19.5},{"x":1.52,"y":19.1},{"x":1.35,"y":18.9},{"x":1.1,"y":18.0},{"x":1.3,"y":17.6},{"x":1.05,"y":16.7},{"x":1.65,"y":19.7},{"x":1.9,"y":19.2},{"x":1.7,"y":20.9},{"x":1.5,"y":21.8},{"x":1.2,"y":20.2},{"x":0.58,"y":13.8},{"x":0.4,"y":11.5},{"x":0.3,"y":9.8},{"x":0.32,"y":7.5},{"x":1.55,"y":5.0},{"x":1.5,"y":5.5},{"x":1.45,"y":3.2},{"x":1.3,"y":1.5},{"x":1.1,"y":0.5},{"x":1.62,"y":12.1},{"x":1.58,"y":11.4}
],
"up": [
{"x":7.38,"y":42.6},{"x":7.2,"y":35.7},{"x":4.55,"y":35.4},{"x":4.12,"y":31.9},{"x":3.79,"y":29.1},{"x":4.15,"y":28.4},{"x":4.85,"y":28.1},{"x":2.73,"y":28.7},{"x":3.46,"y":28.1},{"x":3.19,"y":27.6},{"x":3.16,"y":27.1},{"x":3.05,"y":26.4},{"x":3.22,"y":26.4},{"x":3.03,"y":26.1},{"x":3.33,"y":26.0},{"x":2.43,"y":26.2},{"x":2.53,"y":25.7},{"x":3.12,"y":25.4},{"x":4.72,"y":26.1},{"x":4.49,"y":24.9},{"x":2.1,"y":24.1},{"x":2.86,"y":24.4},{"x":2.75,"y":24.0},{"x":3.27,"y":24.4},{"x":3.83,"y":24.3},{"x":2.36,"y":23.6},{"x":2.86,"y":23.3},{"x":2.43,"y":22.6},{"x":2.92,"y":22.6},{"x":3.99,"y":22.9},{"x":3.79,"y":22.5},{"x":2.47,"y":22.1},{"x":2.0,"y":22.3},{"x":2.23,"y":21.3},{"x":2.27,"y":21.2},{"x":3.33,"y":21.3},{"x":3.46,"y":21.5},{"x":3.56,"y":20.9},{"x":2.66,"y":20.8},{"x":2.77,"y":20.8},{"x":2.26,"y":20.5},{"x":2.21,"y":20.0},{"x":2.01,"y":20.0},{"x":2.1,"y":19.7},{"x":2.63,"y":19.9},{"x":2.47,"y":19.7},{"x":2.47,"y":19.2},{"x":2.94,"y":18.9},{"x":2.86,"y":18.6},{"x":2.11,"y":18.8},{"x":2.03,"y":18.6},{"x":2.11,"y":18.1},{"x":2.16,"y":17.6},{"x":2.63,"y":17.6},{"x":2.04,"y":16.6},{"x":2.12,"y":16.6},{"x":2.21,"y":16.6},{"x":2.05,"y":16.1},{"x":3.75,"y":16.9},{"x":3.5,"y":14.6},{"x":2.14,"y":14.1},{"x":2.24,"y":14.1},{"x":2.23,"y":13.6},{"x":2.03,"y":13.3},{"x":2.2,"y":12.7},{"x":2.59,"y":12.7},{"x":3.65,"y":12.5},{"x":3.53,"y":11.8},{"x":3.39,"y":11.4},{"x":2.16,"y":11.8},{"x":2.23,"y":11.5},{"x":2.5,"y":10.5},{"x":2.67,"y":10.2},{"x":3.26,"y":9.65},{"x":2.21,"y":6.7},{"x":2.4,"y":6.95},{"x":2.02,"y":19.3}
],
"down": [
{"x":-3.14,"y":28.8},{"x":-2.72,"y":22.8},{"x":-2.68,"y":22.2},{"x":-2.34,"y":22.8},{"x":-2.05,"y":22.0},{"x":-2.11,"y":20.5},{"x":-2.08,"y":20.6},{"x":-2.2,"y":19.3},{"x":-2.18,"y":19.0},{"x":-2.11,"y":16.9},{"x":-2.28,"y":16.6},{"x":-2.44,"y":12.5},{"x":-2.19,"y":12.1},{"x":-2.11,"y":10.9}
],
"vlines": [{"x":-2,"y":0,"y2":43},{"x":2,"y":0,"y2":43}],
"hline": [{"x":-4,"x2":8,"y":6.644}],
"frameh": [{"x":-4.477,"x2":8.6,"y":44.766},{"x":-4.477,"x2":8.6,"y":-1.67},{"x":4,"x2":8.6,"y":4.0}],
"framev": [{"x":-4.477,"y":-1.67,"y2":44.766},{"x":4,"y":-1.67,"y2":4.0}],
"plabel": [{"x":-4,"y":4.9,"label":"p-value 0.01"}],
"legtext": [{"x":4.67,"y":1.38,"label":"Upregulated (77)"},{"x":4.67,"y":-0.62,"label":"Downregulated (14)"}]
},
"encoding": {
"x": {"field": "x", "type": "quantitative", "scale": {"domain": [-4.477, 8.295], "nice": false, "zero": false},
 "axis": {"values": [-4,-2,0,2,4,6,8], "labelExpr": "'' + datum.value", "title": "Ratio Log Fold Change", "tickSize": 8, "labelPadding": 25, "labelBaseline": "alphabetic", "labelAngle": 0, "labelAlign": "center", "titleY": 67, "titleX": 233, "titleAlign": "center", "titleBaseline": "alphabetic"}},
"y": {"field": "y", "type": "quantitative", "scale": {"domain": [-1.67, 44.766], "nice": false, "zero": false},
 "axis": {"values": [0,10,20,30,40], "title": "-log2(p-value)", "tickSize": 10, "labelPadding": 9, "labelAngle": 270, "labelAlign": "center", "labelBaseline": "alphabetic", "titleAngle": 270, "titleAlign": "center", "titleBaseline": "alphabetic", "titleX": -53, "titleY": 202}}
},
"layer": [
{"data": {"name": "ns"}, "mark": {"type": "point", "shape": "circle", "filled": false, "size": 28, "strokeWidth": 1.3, "color": "black", "opacity": 1}},
{"data": {"name": "down"}, "mark": {"type": "point", "shape": "circle", "filled": false, "size": 28, "strokeWidth": 1, "color": "#00FF00", "opacity": 1}},
{"data": {"name": "up"}, "mark": {"type": "point", "shape": "circle", "filled": false, "size": 28, "strokeWidth": 1, "color": "#FF0000", "opacity": 1}},
{"data": {"name": "vlines"}, "mark": {"type": "rule", "color": "#0000FF", "strokeWidth": 1}, "encoding": {"y2": {"field": "y2"}}},
{"data": {"name": "hline"}, "mark": {"type": "rule", "color": "#CC3399", "strokeWidth": 1}, "encoding": {"x2": {"field": "x2"}}},
{"data": {"name": "plabel"}, "mark": {"type": "text", "align": "left", "baseline": "alphabetic", "font": "Liberation Sans", "fontSize": 14.5, "color": "#CC3399"}, "encoding": {"text": {"field": "label"}}},
{"data": {"name": "legtext"}, "mark": {"type": "text", "align": "left", "baseline": "alphabetic", "font": "Liberation Sans", "fontSize": 14.5, "color": "black"}, "encoding": {"text": {"field": "label"}}},
{"data": {"name": "frameh"}, "mark": {"type": "rule", "color": "black", "strokeWidth": 1}, "encoding": {"x2": {"field": "x2"}}},
{"data": {"name": "framev"}, "mark": {"type": "rule", "color": "black", "strokeWidth": 1}, "encoding": {"y2": {"field": "y2"}}}
]
}
